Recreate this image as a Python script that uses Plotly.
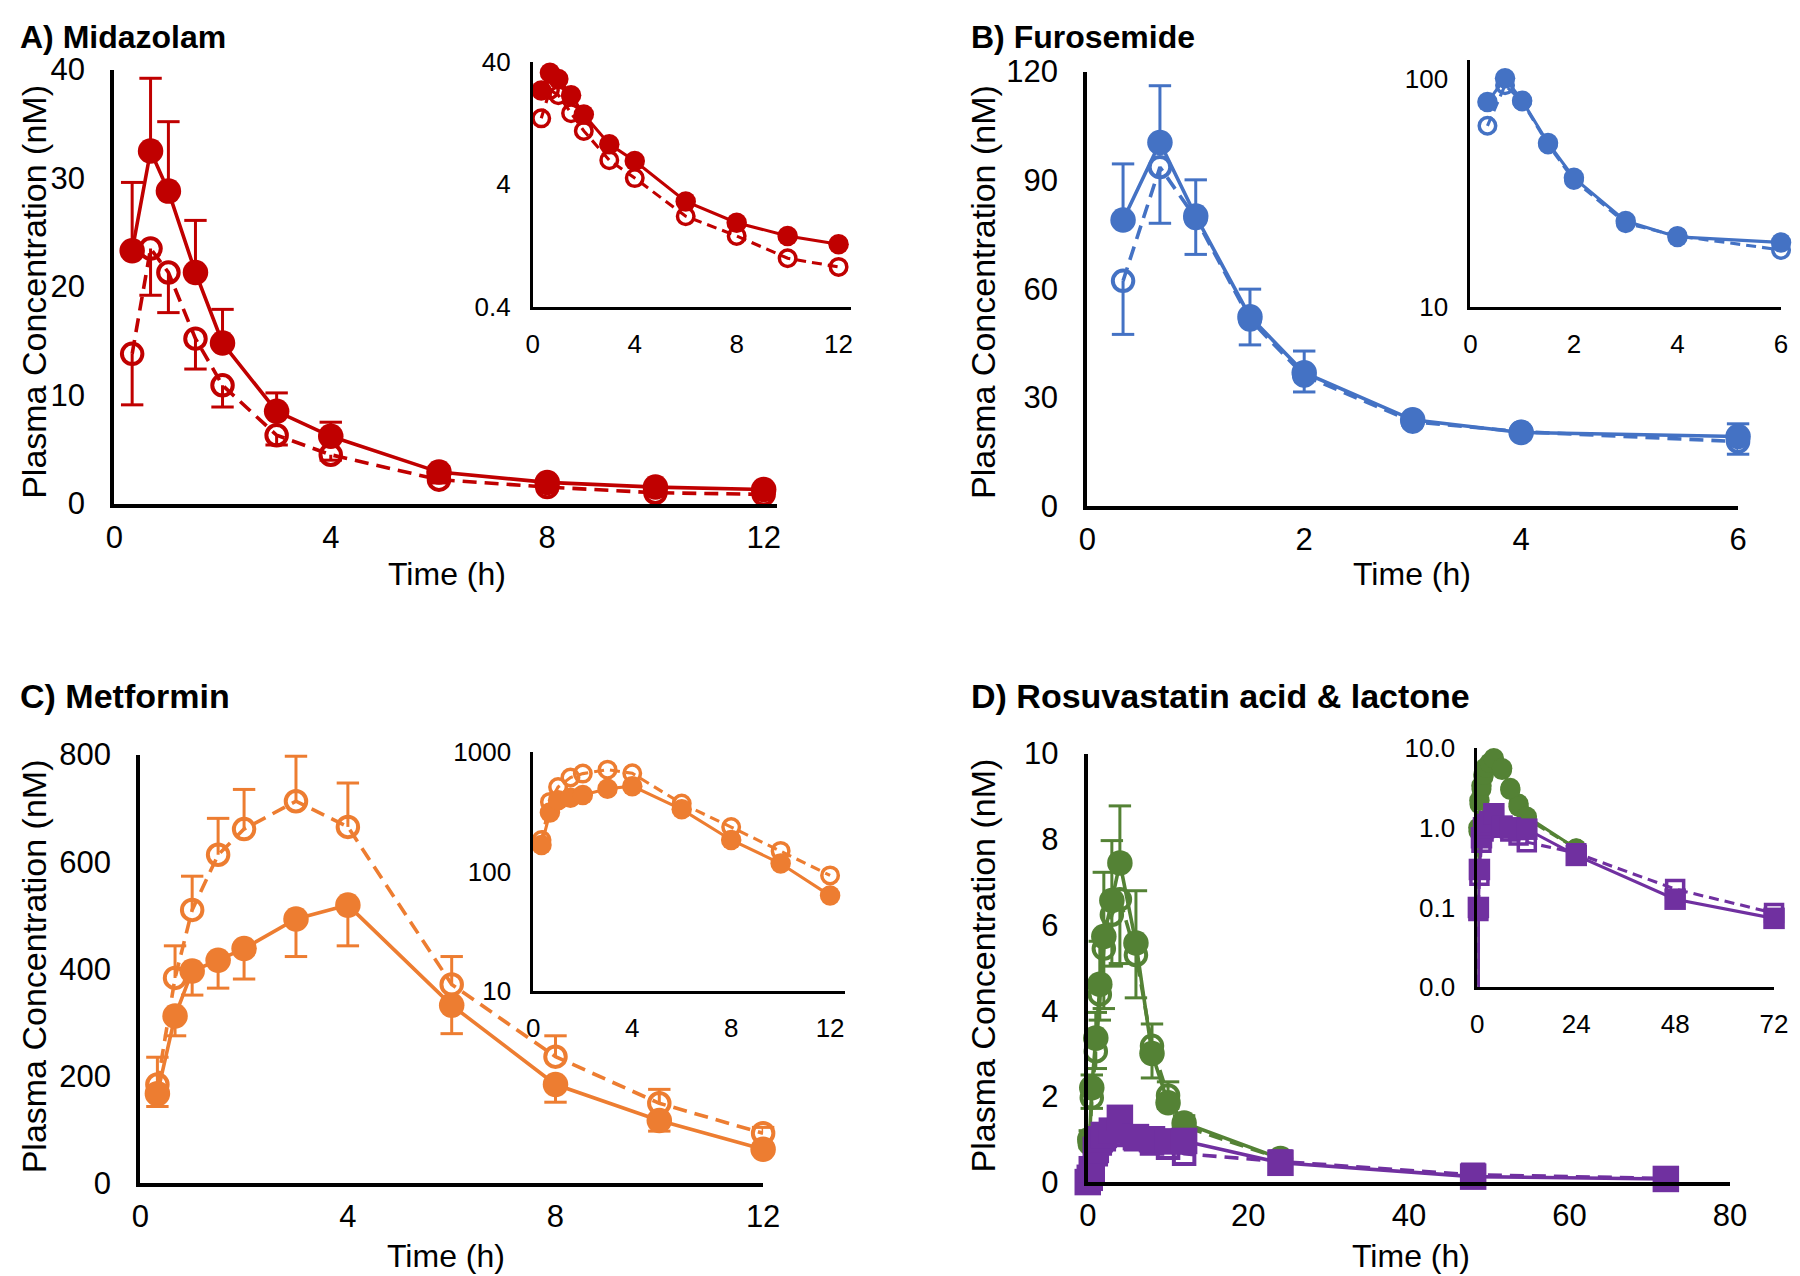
import plotly.graph_objects as go
import math

RED = "#C00000"
BLUE = "#4472C4"
ORANGE = "#ED7D31"
GREEN = "#548235"
PURPLE = "#7030A0"
FONT = "Liberation Sans, Arial, sans-serif"

# ---------------- A) Midazolam ----------------
mdz_time = [0.33, 0.67, 1, 1.5, 2, 3, 4, 6, 8, 10, 12]
mdz_filled = [23.3, 32.5, 28.8, 21.3, 14.8, 8.5, 6.2, 2.9, 1.95, 1.52, 1.3]
mdz_open = [13.8, 23.5, 21.3, 15.2, 10.9, 6.3, 4.5, 2.2, 1.52, 1.0, 0.85]
mdz_filled_err_up = [6.3, 6.7, 6.4, 4.8, 3.1, 1.7, 1.3, 0.5, 0.3, 0.3, 0.2]
mdz_open_err_down = [4.7, 4.3, 3.7, 2.8, 2.0, 0.9, 0.5, 0.3, 0.3, 0.2, 0.2]

# ---------------- B) Furosemide ----------------
fur_time = [0.33, 0.67, 1, 1.5, 2, 3, 4, 6]
fur_filled = [79.0, 100.4, 80.1, 52.3, 36.8, 23.8, 20.3, 19.2]
fur_open = [62.2, 93.6, 79.5, 51.5, 36.0, 23.3, 20.5, 17.8]
fur_filled_err_up = [15.5, 15.7, 10.0, 7.6, 6.0, 1.0, 1.0, 3.5]
fur_open_err_down = [14.8, 15.5, 10.0, 7.0, 4.5, 1.0, 1.0, 3.5]

# ---------------- C) Metformin ----------------
met_time = [0.33, 0.67, 1, 1.5, 2, 3, 4, 6, 8, 10, 12]
met_filled = [167, 312, 396, 416, 438, 493, 519, 332, 184, 117, 63]
met_open = [184, 383, 510, 613, 661, 713, 665, 371, 236, 149, 93]
met_filled_err_down = [24, 37, 45, 52, 57, 70, 76, 53, 33, 20, 8]
met_open_err_up = [51, 60, 63, 68, 74, 84, 82, 52, 39, 26, 11]

# ---------------- D) Rosuvastatin acid & lactone ----------------
acid_time = [0, 0.25, 0.5, 1, 1.5, 2, 3, 4, 6, 8, 10, 12, 24]
acid_filled = [0, 1.0, 2.2, 3.36, 4.62, 5.73, 6.57, 7.45, 5.58, 3.0, 1.85, 1.38, 0.55]
acid_open = [0, 0.9, 1.97, 3.05, 4.38, 5.45, 6.24, 6.6, 5.3, 3.18, 2.02, 1.3, 0.55]
acid_filled_err_up = [0, 0.2, 0.3, 0.6, 1.0, 1.5, 1.4, 1.33, 1.22, 0.69, 0.49, 0.17, 0.05]
acid_open_err_down = [0, 0.1, 0.25, 0.4, 0.6, 1.4, 1.2, 1.5, 1.0, 0.75, 0.3, 0.2, 0.05]

lac_time = [0, 0.25, 0.5, 1, 1.5, 2, 3, 4, 6, 8, 10, 12, 24, 48, 72]
lac_filled = [0, 0.1, 0.3, 0.75, 1.0, 1.1, 1.2, 1.5, 1.05, 1.0, 0.95, 0.96, 0.45, 0.127, 0.073]
lac_open = [0, 0.09, 0.25, 0.65, 0.9, 1.0, 1.1, 1.25, 1.0, 0.9, 0.8, 0.66, 0.48, 0.17, 0.085]

# tick labels
A_main_y = [0, 10, 20, 30, 40]
A_main_x = [0, 4, 8, 12]
A_ins_y = [0.4, 4, 40]
B_main_y = [0, 30, 60, 90, 120]
B_main_x = [0, 2, 4, 6]
B_ins_y = [10, 100]
C_main_y = [0, 200, 400, 600, 800]
C_main_x = [0, 4, 8, 12]
C_ins_y = [10, 100, 1000]
D_main_y = [0, 2, 4, 6, 8, 10]
D_main_x = [0, 20, 40, 60, 80]
D_ins_x = [0, 24, 48, 72]
D_ins_y = [0.01, 0.1, 1, 10]
D_ins_y_text = ["0.0", "0.1", "1.0", "10.0"]

fig = go.Figure()


def axn(ax):
    return "" if ax == 1 else str(ax)


def series(x, y, color, filled, ax, main=True, symbol="circle"):
    n = axn(ax)
    if main:
        size = 25.5 if symbol == "circle" else 26.5
        osize = 20.5
        lw, mlw, dpat = 3.6, 4, "14px,8px"
    else:
        size = 20.5 if symbol == "circle" else 21.5
        osize = 16.5 if symbol == "circle" else 17
        lw, mlw, dpat = 3.1, 3.5, "10px,6px"
    if filled:
        marker = dict(symbol=symbol, size=size, color=color, line=dict(width=0))
        line = dict(color=color, width=lw)
    else:
        marker = dict(symbol=symbol + "-open", size=osize, color=color,
                      line=dict(width=mlw, color=color))
        line = dict(color=color, width=lw, dash=dpat)
    fig.add_trace(go.Scatter(x=x, y=y, mode="lines+markers", marker=marker, line=line,
                             xaxis="x" + n, yaxis="y" + n, cliponaxis=False,
                             showlegend=False, hoverinfo="skip"))


def errbars(x, y, err, sign, color, ax):
    """One-directional vertical error bars, placed through the axis scales."""
    n = axn(ax)
    sx, sy, cx, cy = [], [], [], []
    for t, v, e in zip(x, y, err):
        if e <= 0:
            continue
        end = v + sign * e
        sx += [t, t, None]
        sy += [v, end, None]
        cx.append(t)
        cy.append(end)
    fig.add_trace(go.Scatter(x=sx, y=sy, mode="lines", line=dict(color=color, width=3),
                             xaxis="x" + n, yaxis="y" + n, cliponaxis=False,
                             showlegend=False, hoverinfo="skip"))
    fig.add_trace(go.Scatter(x=cx, y=cy, mode="markers",
                             marker=dict(symbol="line-ew-open", size=16, color=color,
                                         line=dict(color=color, width=3)),
                             xaxis="x" + n, yaxis="y" + n, cliponaxis=False,
                             showlegend=False, hoverinfo="skip"))


# ---- A
errbars(mdz_time, mdz_filled, mdz_filled_err_up, 1, RED, 1)
errbars(mdz_time, mdz_open, mdz_open_err_down, -1, RED, 1)
series(mdz_time, mdz_open, RED, False, 1)
series(mdz_time, mdz_filled, RED, True, 1)
series(mdz_time, mdz_open, RED, False, 2, main=False)
series(mdz_time, mdz_filled, RED, True, 2, main=False)

# ---- B
errbars(fur_time, fur_filled, fur_filled_err_up, 1, BLUE, 3)
errbars(fur_time, fur_open, fur_open_err_down, -1, BLUE, 3)
series(fur_time, fur_open, BLUE, False, 3)
series(fur_time, fur_filled, BLUE, True, 3)
series(fur_time, fur_open, BLUE, False, 4, main=False)
series(fur_time, fur_filled, BLUE, True, 4, main=False)

# ---- C
errbars(met_time, met_filled, met_filled_err_down, -1, ORANGE, 5)
errbars(met_time, met_open, met_open_err_up, 1, ORANGE, 5)
series(met_time, met_open, ORANGE, False, 5)
series(met_time, met_filled, ORANGE, True, 5)
series(met_time, met_open, ORANGE, False, 6, main=False)
series(met_time, met_filled, ORANGE, True, 6, main=False)

# ---- D
errbars(acid_time, acid_filled, acid_filled_err_up, 1, GREEN, 7)
errbars(acid_time, acid_open, acid_open_err_down, -1, GREEN, 7)
series(acid_time, acid_open, GREEN, False, 7)
series(acid_time, acid_filled, GREEN, True, 7)
series(lac_time, lac_open, PURPLE, False, 7, symbol="square")
series(lac_time, lac_filled, PURPLE, True, 7, symbol="square")
series(acid_time, acid_open, GREEN, False, 8, main=False)
series(acid_time, acid_filled, GREEN, True, 8, main=False)
series(lac_time, lac_open, PURPLE, False, 8, main=False, symbol="square")
series(lac_time, lac_filled, PURPLE, True, 8, main=False, symbol="square")

# Layout positions are given in target-picture pixels and mapped to figure pixels
# (calibrated against the previous renders of this page).
W, H = 1800, 1290
SX, OX = 0.9866, 15.1
SY, OY = 0.9707, 24.5


def fx(o):
    return (o - OX) / SX


def fy(o):
    return (o - OY) / SY


def px_x(a, b):
    return [fx(a) / W, fx(b) / W]


def px_y(top, bottom):
    return [1 - fy(bottom) / H, 1 - fy(top) / H]


def xax(domain, anchor, rng, tickvals, main=True):
    return dict(domain=domain, anchor=anchor, range=rng, tickvals=tickvals,
                showline=True, linecolor="black", linewidth=4 if main else 3,
                showgrid=False, zeroline=False, ticks="",
                ticklabelstandoff=3 if main else 12,
                tickfont=dict(family=FONT, size=31 if main else 26, color="black"),
                fixedrange=True)


def yax(domain, anchor, rng, tickvals, main=True, log=False, ticktext=None):
    d = dict(domain=domain, anchor=anchor, range=rng, tickvals=tickvals,
             showline=True, linecolor="black", linewidth=4 if main else 3,
             showgrid=False, zeroline=False, ticks="",
             ticklabelstandoff=19 if main else 14,
             tickfont=dict(family=FONT, size=31 if main else 26, color="black"),
             fixedrange=True)
    if log:
        d["type"] = "log"
    if ticktext is not None:
        d["ticktext"] = ticktext
    return d


fig.update_layout(
    width=W, height=H, margin=dict(l=0, r=0, t=0, b=0),
    paper_bgcolor="white", plot_bgcolor="rgba(0,0,0,0)",
    font=dict(family=FONT, color="black"),
    xaxis=xax(px_x(112.5, 776.1), "y", [0, 12.25], A_main_x),
    yaxis=yax(px_y(69, 502), "x", [0, 40], A_main_y),
    xaxis2=xax(px_x(531.5, 850.3), "y2", [0, 12.5], A_main_x, main=False),
    yaxis2=yax(px_y(61, 306), "x2", [math.log10(0.4), math.log10(40)], A_ins_y, main=False, log=True),
    xaxis3=xax(px_x(1086.5, 1738), "y3", [0, 6], B_main_x),
    yaxis3=yax(px_y(71, 504.4), "x3", [0, 120], B_main_y),
    xaxis4=xax(px_x(1470, 1781), "y4", [0, 6], B_main_x, main=False),
    yaxis4=yax(px_y(59.8, 306), "x4", [1, 2.08], B_ins_y, main=False, log=True),
    xaxis5=xax(px_x(138.5, 762), "y5", [0, 12], C_main_x),
    yaxis5=yax(px_y(752.5, 1180), "x5", [0, 800], C_main_y),
    xaxis6=xax(px_x(532, 843.9), "y6", [0, 12.6], C_main_x, main=False),
    yaxis6=yax(px_y(750, 988.5), "x6", [1, 3], C_ins_y, main=False, log=True),
    xaxis7=xax(px_x(1087, 1730), "y7", [0, 80], D_main_x),
    yaxis7=yax(px_y(751.5, 1179), "x7", [0, 10], D_main_y),
    xaxis8=xax(px_x(1477, 1774), "y8", [0, 72], D_ins_x, main=False),
    yaxis8=yax(px_y(746, 984.5), "x8", [-2, 1], D_ins_y, main=False, log=True, ticktext=D_ins_y_text),
)


def pos(o_x, o_y):
    return fx(o_x) / W, 1 - fy(o_y) / H


def pos_fig(p_x, p_y):
    return p_x / W, 1 - p_y / H


TITLE_SIZE = 32
annotations = []
# top titles sit at the very top edge of the figure
for txt, ox in [("A) Midazolam", 16), ("B) Furosemide", 968)]:
    x, _ = pos(ox, 0)
    x = max(x, 0.0)
    _, y = pos_fig(0, 12.5)
    annotations.append(dict(text="<b>" + txt + "</b>", x=x, y=y, xref="paper", yref="paper",
                            xanchor="left", yanchor="middle", showarrow=False,
                            font=dict(family=FONT, size=TITLE_SIZE, color="black")))
for txt, ox, oy in [("C) Metformin", 16, 694), ("D) Rosuvastatin acid &amp; lactone", 968, 694)]:
    x, y = pos(ox, oy)
    x = max(x, 0.0)
    annotations.append(dict(text="<b>" + txt + "</b>", x=x, y=y, xref="paper", yref="paper",
                            xanchor="left", yanchor="middle", showarrow=False,
                            font=dict(family=FONT, size=TITLE_SIZE + 2, color="black")))
# y-axis titles
for px_, oy in [(17, 291), (None, 291), (17, 964), (None, 963)]:
    if px_ is None:
        x, y = pos(982, oy)
    else:
        x, _ = pos_fig(px_, 0)
        _, y = pos(0, oy)
    annotations.append(dict(text="Plasma Concentration (nM)", x=x, y=y, xref="paper", yref="paper",
                            xanchor="center", yanchor="middle", textangle=-90, showarrow=False,
                            font=dict(family=FONT, size=34, color="black")))
# x-axis titles
for ox, oy in [(446, 572), (1412, 572), (445, 1253), (1411, 1253)]:
    x, y = pos(ox, oy)
    annotations.append(dict(text="Time (h)", x=x, y=y, xref="paper", yref="paper",
                            xanchor="center", yanchor="middle", showarrow=False,
                            font=dict(family=FONT, size=32, color="black")))
fig.update_layout(annotations=annotations)

fig.write_html("out.html")
